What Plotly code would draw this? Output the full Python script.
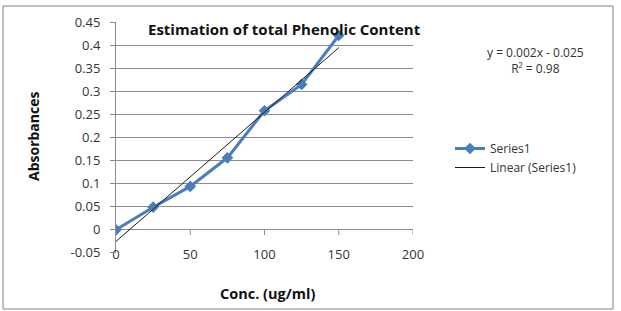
import numpy as np
import plotly.graph_objects as go

# Data
conc = [0, 25, 50, 75, 100, 125, 150]
absorb = [0.0, 0.049, 0.094, 0.156, 0.258, 0.315, 0.421]
series_name = "Series1"
trend_name = "Linear (Series1)"
title_text = "Estimation of total Phenolic Content"
x_title = "Conc. (ug/ml)"
y_title = "Absorbances"
eq_text = "y = 0.002x - 0.025<br>R² = 0.98"
x_ticks = [0, 50, 100, 150, 200]
y_ticks = [-0.05, 0, 0.05, 0.1, 0.15, 0.2, 0.25, 0.3, 0.35, 0.4, 0.45]
y_ticktext = ["-0.05", "0", "0.05", "0.1", "0.15", "0.2", "0.25", "0.3", "0.35", "0.4", "0.45"]

W, H = 621, 311
L, R, T, B = 116, 208, 22, 58
pw, ph = W - L - R, H - T - B

def px_x(p):
    return (p - L) / pw

def px_y(p):
    return (H - B - p) / ph

slope, intercept = np.polyfit(conc, absorb, 1)
tx = [min(conc), max(conc)]
ty = [slope * v + intercept for v in tx]

FONT = "'Open Sans', sans-serif"
BLUE = "#4A7EBB"
GRID = "#8C8C8C"

fig = go.Figure()
fig.add_trace(go.Scatter(
    x=conc, y=absorb, mode="lines+markers", name=series_name,
    line=dict(color=BLUE, width=3),
    marker=dict(symbol="diamond", size=9, color=BLUE),
))
fig.add_trace(go.Scatter(
    x=tx, y=ty, mode="lines", name=trend_name,
    line=dict(color="#1a1a1a", width=1),
))

fig.update_layout(
    width=W, height=H,
    margin=dict(l=L, r=R, t=T, b=B),
    paper_bgcolor="white", plot_bgcolor="white",
    font=dict(family=FONT, size=12, color="#333333"),
    showlegend=True,
    legend=dict(x=px_x(450), y=px_y(158), xanchor="left", yanchor="middle",
                font=dict(size=12, color="#333333"), bgcolor="rgba(0,0,0,0)",
                itemwidth=30, tracegroupgap=0),
    xaxis=dict(range=[0, 200], tickvals=x_ticks, showgrid=False, zeroline=False,
               showline=False, ticks="", tickfont=dict(size=13, color="#333333"),
               ticklabelstandoff=-8),
    yaxis=dict(range=[-0.0502, 0.4502], tickvals=y_ticks, ticktext=y_ticktext,
               showgrid=True, gridcolor=GRID, gridwidth=1, zeroline=False,
               showline=True, linecolor=GRID, linewidth=1,
               ticks="outside", ticklen=5, tickcolor=GRID,
               ticklabelstandoff=7,
               tickfont=dict(size=13, color="#333333")),
)

# small x tick marks below the y=0 crossing axis
for xv in x_ticks[1:]:
    fig.add_shape(type="line", xref="x", yref="paper", x0=xv, x1=xv,
                  y0=px_y(230), y1=px_y(235), line=dict(color=GRID, width=1))

# outer chart border
fig.add_shape(type="rect", xref="paper", yref="paper",
              x0=px_x(3), x1=px_x(613), y0=px_y(309), y1=px_y(6),
              line=dict(color="#808080", width=1), layer="below")

fig.add_annotation(text="<b>" + title_text + "</b>", xref="paper", yref="paper",
                   x=px_x(284), y=px_y(29), showarrow=False,
                   font=dict(size=15, color="#111111"), xanchor="center", yanchor="middle")
fig.add_annotation(text="<b>" + y_title + "</b>", xref="paper", yref="paper",
                   x=px_x(33), y=px_y(137), showarrow=False, textangle=-90,
                   font=dict(size=14, color="#111111"), xanchor="center", yanchor="middle")
fig.add_annotation(text="<b>" + x_title + "</b>", xref="paper", yref="paper",
                   x=px_x(267), y=px_y(293), showarrow=False,
                   font=dict(size=14.5, color="#111111"), xanchor="center", yanchor="middle")
fig.add_annotation(text=eq_text, xref="paper", yref="paper",
                   x=px_x(535), y=px_y(61), showarrow=False, align="center",
                   font=dict(size=12, color="#333333"), xanchor="center", yanchor="middle")

fig.write_html("out.html")
